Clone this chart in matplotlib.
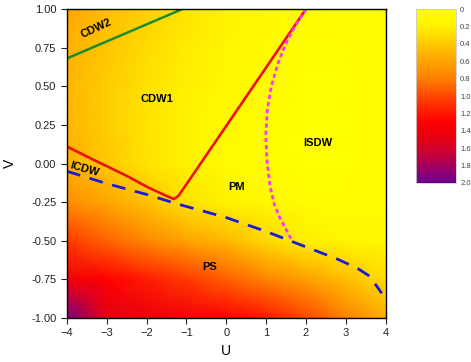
import numpy as np
import matplotlib
matplotlib.use("Agg")
import matplotlib.pyplot as plt
from matplotlib.colors import LinearSegmentedColormap

plt.rcParams['font.family'] = ['Liberation Sans', 'DejaVu Sans']

# background field (rows: V from 1 to -1, cols: U from -4 to 4)
grid_u = [-4, -3, -2, -1, 0, 1, 2, 3, 4]
grid_v = [1.0, 0.75, 0.5, 0.25, 0.0, -0.25, -0.5, -0.75, -1.0]
field = [
    [0.58, 0.46, 0.36, 0.26, 0.16, 0.10, 0.05, 0.05, 0.08],
    [0.52, 0.41, 0.31, 0.22, 0.12, 0.07, 0.03, 0.03, 0.06],
    [0.50, 0.38, 0.28, 0.18, 0.10, 0.05, 0.02, 0.02, 0.05],
    [0.50, 0.38, 0.26, 0.15, 0.08, 0.03, 0.01, 0.02, 0.05],
    [0.52, 0.40, 0.27, 0.16, 0.07, 0.03, 0.01, 0.02, 0.05],
    [0.72, 0.58, 0.43, 0.28, 0.16, 0.08, 0.04, 0.04, 0.06],
    [1.05, 0.90, 0.75, 0.60, 0.48, 0.32, 0.20, 0.12, 0.10],
    [1.40, 1.30, 1.18, 1.05, 0.92, 0.78, 0.62, 0.45, 0.30],
    [1.95, 1.50, 1.42, 1.38, 1.32, 1.20, 1.00, 0.80, 0.55],
]

# phase boundaries
green_u = [-4.0, -1.1]
green_v = [0.68, 1.0]

red_u = [-4.0, -3.3, -2.5, -2.0, -1.5, -1.32, -1.2, 2.0]
red_v = [0.11, 0.02, -0.08, -0.15, -0.21, -0.23, -0.21, 1.0]

magenta_u = [2.0, 1.75, 1.5, 1.3, 1.13, 1.03, 0.99, 1.02, 1.1, 1.2, 1.34, 1.67]
magenta_v = [1.0, 0.9, 0.78, 0.65, 0.5, 0.35, 0.18, 0.02, -0.15, -0.26, -0.35, -0.51]

blue_u = [-4.0, -3.0, -2.0, -1.25, 0.0, 1.0, 1.7, 2.3, 2.8, 3.3, 3.6, 3.9]
blue_v = [-0.05, -0.13, -0.2, -0.26, -0.35, -0.44, -0.51, -0.57, -0.62, -0.68, -0.73, -0.84]

cbar_ticks = [0, 0.2, 0.4, 0.6, 0.8, 1.0, 1.2, 1.4, 1.6, 1.8, 2.0]
cbar_labels = ["0", "0.2", "0.4", "0.6", "0.8", "1.0", "1.2", "1.4", "1.6", "1.8", "2.0"]

cmap = LinearSegmentedColormap.from_list("phase", [
    (0.0, "#ffff00"), (0.1, "#fff000"), (0.25, "#ffb400"), (0.4, "#ff8000"),
    (0.52, "#ff3c00"), (0.65, "#ff0000"), (0.76, "#e00018"), (0.85, "#c00040"),
    (0.93, "#960070"), (1.0, "#6a0090")])

fig = plt.figure(figsize=(4.71, 3.62), dpi=100)
ax = fig.add_axes([0.142, 0.1215, 0.677, 0.8536])

U, V = np.meshgrid(grid_u, grid_v)
mesh = ax.pcolormesh(U, V, np.array(field), cmap=cmap, vmin=0, vmax=2,
                     shading='gouraud', rasterized=True)

ax.plot(green_u, green_v, color="#1e8a2e", lw=1.8, solid_capstyle='butt')
ax.plot(red_u, red_v, color="#ee1111", lw=1.9)
ax.plot(magenta_u, magenta_v, color="#ff33ff", lw=2, linestyle=(0, (1.5, 1.1)))
ax.plot(blue_u, blue_v, color="#1a1ad8", lw=2, linestyle=(0, (5, 3.5)))

lab = dict(fontsize=8, fontweight='bold', ha='center', va='center')
ax.text(-3.26, 0.875, "CDW2", rotation=25, **lab)
ax.text(-1.75, 0.415, "CDW1", **lab)
ax.text(-3.55, -0.04, "ICDW", rotation=-16, **lab)
ax.text(0.25, -0.15, "PM", **lab)
ax.text(2.3, 0.13, "ISDW", **lab)
ax.text(-0.42, -0.67, "PS", **lab)

ax.set_xlim(-4, 4)
ax.set_ylim(-1, 1)
ax.set_xticks(range(-4, 5))
ax.set_yticks(np.arange(-1, 1.01, 0.25))
ax.set_yticklabels([f"{t:.2f}" for t in np.arange(-1, 1.01, 0.25)])
ax.tick_params(direction='out', length=4, width=0.8, labelsize=8, colors='#222222')
ax.set_xlabel("U", fontsize=10, labelpad=4)
ax.set_ylabel("V", fontsize=10, labelpad=10)
for s in ax.spines.values():
    s.set_linewidth(1.0)

cax = fig.add_axes([0.883, 0.4945, 0.085, 0.48])
cb = fig.colorbar(mesh, cax=cax)
cax.invert_yaxis()
cb.set_ticks(cbar_ticks)
cb.set_ticklabels(cbar_labels)
cax.tick_params(length=0, labelsize=5.5, labelcolor='#444444', pad=3)
cb.outline.set_edgecolor('#cccccc')
cb.outline.set_linewidth(0.6)

fig.savefig("out.png", dpi=100)
